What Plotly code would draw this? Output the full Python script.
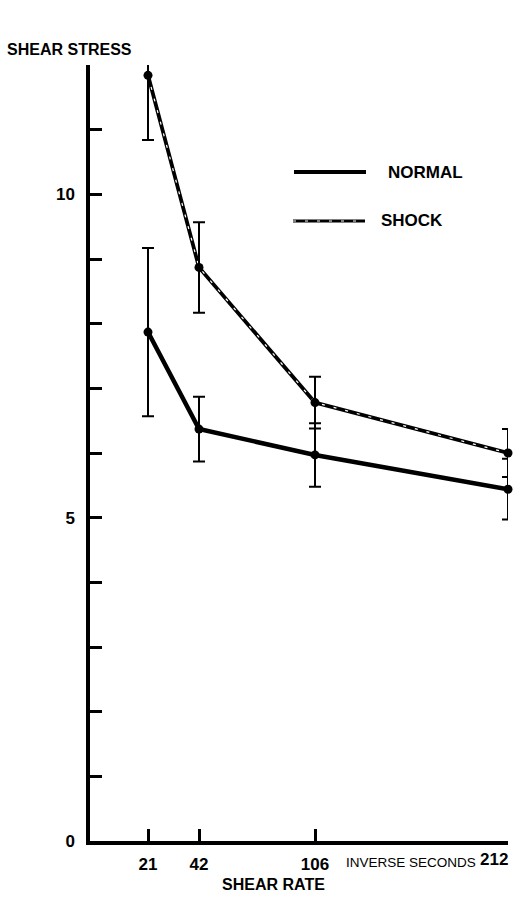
import plotly.graph_objects as go

# ---- data ----
shear_rate = [21, 42, 106, 212]          # inverse seconds
normal_stress = [7.87, 6.37, 5.97, 5.44]
normal_err = [1.30, 0.50, 0.49, 0.47]
shock_stress = [11.84, 8.87, 6.78, 6.00]
shock_err = [1.00, 0.70, 0.40, 0.37]

y_tick_vals = list(range(0, 13))
y_tick_text = ["0", "", "", "", "", "5", "", "", "", "", "10", "", ""]

# ---- axis scale: the original x axis is drawn with uneven spacing ----
X_SCALE = {21: 58, 42: 109, 106: 225, 212: 418}   # axis units for each shear rate
X_MAX = 418

def xs(vals):
    return [X_SCALE[v] for v in vals]

# figure geometry (pixels)
W, H = 515, 899
L, R, T, B = 90, 7, 65, 58
PW, PH = W - L - R, H - T - B

def px(xp):
    return (xp - L) / PW

def py(yp):
    return (H - B - yp) / PH

FONT = "Liberation Sans"
BLACK = "#000000"

fig = go.Figure()

# normal line
fig.add_trace(go.Scatter(
    x=xs(shear_rate), y=normal_stress, mode="lines",
    line=dict(color=BLACK, width=4.5), cliponaxis=False, showlegend=False,
    hoverinfo="skip"))

# shock line: thick black with white dash hatch
fig.add_trace(go.Scatter(
    x=xs(shear_rate), y=shock_stress, mode="lines",
    line=dict(color=BLACK, width=3.8), cliponaxis=False, showlegend=False,
    hoverinfo="skip"))
fig.add_trace(go.Scatter(
    x=xs(shear_rate), y=shock_stress, mode="lines",
    line=dict(color="white", width=1.2, dash="3px,9px"), cliponaxis=False,
    showlegend=False, hoverinfo="skip"))

# markers + error bars
for vals, err, name in [(normal_stress, normal_err, "NORMAL"),
                        (shock_stress, shock_err, "SHOCK")]:
    fig.add_trace(go.Scatter(
        x=xs(shear_rate), y=vals, mode="markers", name=name,
        marker=dict(color=BLACK, size=9),
        error_y=dict(type="data", array=err, visible=True, color=BLACK,
                     thickness=2, width=6),
        cliponaxis=False, showlegend=False))

# legend drawn by hand
shapes = [
    dict(type="line", xref="paper", yref="paper",
         x0=px(294), x1=px(366), y0=py(172), y1=py(172),
         line=dict(color=BLACK, width=4)),
    dict(type="line", xref="paper", yref="paper",
         x0=px(293), x1=px(365), y0=py(221), y1=py(221),
         line=dict(color=BLACK, width=3.2)),
    dict(type="line", xref="paper", yref="paper",
         x0=px(293), x1=px(365), y0=py(221), y1=py(221),
         line=dict(color="white", width=1.1, dash="3px,9px")),
]

annotations = [
    dict(text="NORMAL", xref="paper", yref="paper", x=px(386), y=py(173),
         xanchor="left", yanchor="middle", showarrow=False,
         font=dict(family=FONT, size=17, color=BLACK, weight="bold")),
    dict(text="SHOCK", xref="paper", yref="paper", x=px(379), y=py(221),
         xanchor="left", yanchor="middle", showarrow=False,
         font=dict(family=FONT, size=17, color=BLACK, weight="bold")),
    dict(text="SHEAR STRESS", xref="paper", yref="paper", x=px(5), y=py(49),
         xanchor="left", yanchor="middle", showarrow=False,
         font=dict(family=FONT, size=16, color=BLACK, weight="bold")),
    dict(text="SHEAR RATE", xref="paper", yref="paper", x=px(273), y=py(884),
         xanchor="center", yanchor="middle", showarrow=False,
         font=dict(family=FONT, size=16, color=BLACK, weight="bold")),
    dict(text="INVERSE SECONDS", xref="paper", yref="paper", x=px(411), y=py(863),
         xanchor="center", yanchor="middle", showarrow=False,
         font=dict(family=FONT, size=13.5, color=BLACK)),
    dict(text="212", xref="x", yref="paper", x=X_SCALE[212], y=py(860),
         xanchor="right", yanchor="middle", showarrow=False, xshift=2,
         font=dict(family=FONT, size=17, color=BLACK, weight="bold")),
]

x_ticktext = [str(v) if v != 212 else "" for v in shear_rate]

fig.update_layout(
    width=W, height=H,
    margin=dict(l=L, r=R, t=T, b=B, pad=0),
    paper_bgcolor="white", plot_bgcolor="white",
    shapes=shapes, annotations=annotations,
    showlegend=False,
    xaxis=dict(
        range=[0, X_MAX], tickvals=xs(shear_rate), ticktext=x_ticktext,
        ticks="inside", ticklen=12, tickwidth=3, tickcolor=BLACK,
        showline=True, linecolor=BLACK, linewidth=3.5,
        showgrid=False, zeroline=False, automargin=False,
        tickfont=dict(family=FONT, size=17, color=BLACK, weight="bold"),
        ticklabelstandoff=5,
    ),
    yaxis=dict(
        range=[0, 12], tickvals=y_tick_vals, ticktext=y_tick_text,
        ticks="inside", ticklen=12, tickwidth=3, tickcolor=BLACK,
        showline=True, linecolor=BLACK, linewidth=3.5,
        showgrid=False, zeroline=False, automargin=False,
        tickfont=dict(family=FONT, size=17, color=BLACK, weight="bold"),
        ticklabelstandoff=8,
    ),
)

fig.write_html("out.html")
